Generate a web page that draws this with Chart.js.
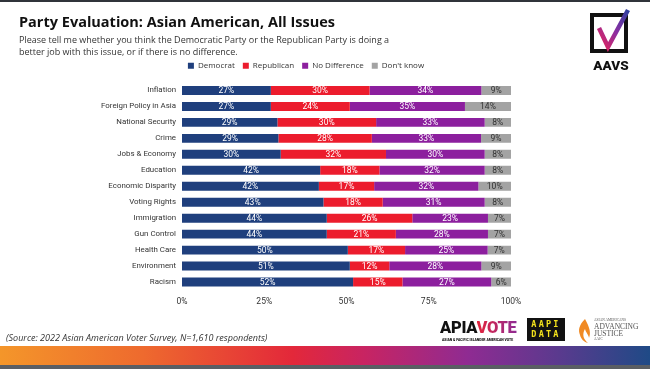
<!DOCTYPE html>
<html>
<head>
<meta charset="utf-8">
<script src="https://cdn.jsdelivr.net/npm/chart.js@4/dist/chart.umd.min.js"></script>
<style>
  html, body { margin: 0; padding: 0; background: #fff; }
  #page { position: relative; width: 650px; height: 369px; overflow: hidden; background: #fff; font-family: "Open Sans", sans-serif; }
  #chartBox { position: absolute; left: 0; top: 0; width: 650px; height: 369px; }
  .abs { position: absolute; white-space: nowrap; }
  #topline { left: 0; top: 0; width: 650px; height: 2px; background: #30343a; }
  #title { left: 19px; top: 15px; font-size: 14.5px; line-height: 14.5px; font-weight: 700; color: #111; }
  #subtitle { left: 19px; top: 34px; font-size: 9px; line-height: 12px; color: #333; }
  #source { left: 6px; top: 332px; font-size: 9px; line-height: 12px; font-style: italic; color: #333; }
  #band { left: 0; top: 346px; width: 650px; height: 19px;
    background: linear-gradient(90deg, #f4962a 0%, #ee6a2e 22%, #e3283a 45%, #c82462 56%, #8f2b92 72%, #5a3a8e 86%, #1f4a86 100%); }
  #bottomline { left: 0; top: 365px; width: 650px; height: 4px; background: #5a5e64; }
  #apia { left: 440px; top: 319px; font-family: Roboto, sans-serif; font-weight: 900; font-size: 16.5px; line-height: 18px; letter-spacing: -0.3px; color: #111; }
  #apia span { background: linear-gradient(90deg, #e3243b, #8e2b95); -webkit-background-clip: text; background-clip: text; color: transparent; }
  #apiaTag { left: 442px; top: 338px; font-family: Roboto, sans-serif; font-weight: 900; font-size: 3.4px; line-height: 4px; color: #111; }
  #aapi { left: 527px; top: 318px; width: 38px; height: 23px; background: #111; color: #f3e21d; font-family: "DejaVu Sans Mono", monospace; font-weight: 700; font-size: 8.5px; line-height: 10px; letter-spacing: 2.2px; text-align: center; padding-top: 1px; box-sizing: border-box; }
  #aaj { left: 594px; top: 318px; font-family: "Liberation Serif", serif; color: #555; }
  #aaj .small { font-size: 3.5px; line-height: 5px; }
  #aaj .big { font-size: 7.5px; line-height: 7px; }
</style>
</head>
<body>
<div id="page">
  <div id="chartBox"><canvas id="partyChart"></canvas></div>
  <div id="topline" class="abs"></div>
  <div id="title" class="abs">Party Evaluation: Asian American, All Issues</div>
  <div id="subtitle" class="abs">Please tell me whether you think the Democratic Party or the Republican Party is doing a<br>better job with this issue, or if there is no difference.</div>

  <svg class="abs" style="left:588px;top:6px" width="50" height="68" viewBox="0 0 50 68">
    <defs>
      <linearGradient id="chk" x1="0" y1="1" x2="1" y2="0">
        <stop offset="0" stop-color="#e5245a"/>
        <stop offset="0.5" stop-color="#8a2ea2"/>
        <stop offset="1" stop-color="#2f3fa0"/>
      </linearGradient>
    </defs>
    <rect x="4" y="9" width="34" height="36" fill="none" stroke="#111" stroke-width="4"/>
    <path d="M11 22 L20 41 L40 4" fill="none" stroke="url(#chk)" stroke-width="4.5" stroke-linejoin="miter"/>
    <text x="23" y="64" text-anchor="middle" font-family="Roboto, sans-serif" font-weight="900" font-size="13.5" fill="#111">AAVS</text>
  </svg>

  <div id="source" class="abs">(Source: 2022 Asian American Voter Survey, N=1,610 respondents)</div>
  <div id="apia" class="abs">APIA<span>VOTE</span></div>
  <div id="apiaTag" class="abs">ASIAN &amp; PACIFIC ISLANDER AMERICAN VOTE</div>
  <div id="aapi" class="abs">AAPI<br>DATA</div>
  <svg class="abs" style="left:576px;top:318px" width="16" height="26" viewBox="0 0 16 26">
    <path d="M9 1 C3 7 2 12 4 17 C5 21 8 24 12 25 C7 21 6 16 9 11 C10 15 13 17 13 20 C15 15 14 10 9 1 Z" fill="#f08a24"/>
  </svg>
  <div id="aaj" class="abs">
    <div class="small">ASIAN AMERICANS</div>
    <div class="big">ADVANCING</div>
    <div class="big">JUSTICE</div>
    <div class="small">AAJC</div>
  </div>
  <div id="band" class="abs"></div>
  <div id="bottomline" class="abs"></div>
</div>

<script>
// issues, top to bottom
var issues = ['Inflation', 'Foreign Policy in Asia', 'National Security', 'Crime', 'Jobs & Economy',
  'Education', 'Economic Disparity', 'Voting Rights', 'Immigration', 'Gun Control',
  'Health Care', 'Environment', 'Racism'];

// shares in % (labels are the rounded values)
var democrat     = [27, 27, 29, 29.3, 30, 42, 41.6, 43, 44, 44, 50.4, 51, 52];
var republican   = [30, 24, 30, 28.4, 32, 18, 16.8, 18, 26, 21, 17.4, 12, 15];
var noDifference = [34, 35, 33, 33.2, 30, 32, 31.7, 31, 23, 28, 25.1, 28, 27];
var dontKnow     = [9, 14, 8, 9.1, 8, 8, 9.9, 8, 7, 7, 7.1, 9, 6];

var xTicks = [0, 25, 50, 75, 100];

// writes the rounded share in the middle of each segment
var segmentLabels = {
  id: 'segmentLabels',
  afterDatasetsDraw: function (chart) {
    var ctx = chart.ctx;
    ctx.save();
    ctx.font = '8.5px Roboto';
    ctx.textAlign = 'center';
    ctx.textBaseline = 'middle';
    chart.data.datasets.forEach(function (ds, i) {
      var meta = chart.getDatasetMeta(i);
      ctx.fillStyle = i === 3 ? '#333333' : '#ffffff';
      meta.data.forEach(function (bar, j) {
        var p = bar.getCenterPoint();
        ctx.fillText(Math.round(ds.data[j]) + '%', p.x, p.y + 0.5);
      });
    });
    ctx.restore();
  }
};

var ctx = document.getElementById('partyChart').getContext('2d');

var partyChart = new Chart(ctx, {
  type: 'bar',
  data: {
    labels: issues,
    datasets: [
      { label: 'Democrat', data: democrat, backgroundColor: '#1f3f7d' },
      { label: 'Republican', data: republican, backgroundColor: '#ec1c2d' },
      { label: 'No Difference', data: noDifference, backgroundColor: '#8c1f9e' },
      { label: "Don't know", data: dontKnow, backgroundColor: '#a3a3a3' }
    ]
  },
  options: {
    indexAxis: 'y',
    responsive: true,
    maintainAspectRatio: false,
    animation: false,
    borderWidth: 0,
    barPercentage: 0.56,
    categoryPercentage: 1,
    layout: { padding: { left: 101, right: 139, top: 53.75, bottom: 59 } },
    plugins: {
      legend: {
        position: 'top',
        align: 'center',
        labels: {
          boxWidth: 6,
          boxHeight: 6,
          padding: 8,
          color: '#333',
          font: { family: 'Open Sans', size: 8 }
        }
      },
      tooltip: { enabled: false }
    },
    scales: {
      x: {
        stacked: true,
        min: 0,
        max: 100,
        afterBuildTicks: function (scale) {
          scale.ticks = xTicks.map(function (v) { return { value: v }; });
        },
        afterFit: function (scale) { scale.height = 20; },
        grid: { display: false, drawTicks: false },
        border: { display: false },
        ticks: {
          padding: 7,
          color: '#333',
          font: { family: 'Roboto', size: 8.5 },
          callback: function (v) { return v + '%'; }
        }
      },
      // empty spacer above the bars
      x2: {
        type: 'linear',
        position: 'top',
        grid: { display: false, drawTicks: false },
        border: { display: false },
        ticks: { display: false },
        afterFit: function (scale) { scale.height = 2.75; }
      },
      y: {
        stacked: true,
        afterFit: function (scale) { scale.width = 81; },
        grid: { display: false, drawTicks: false },
        border: { display: false },
        ticks: {
          padding: 6,
          color: '#333',
          autoSkip: false,
          font: { family: 'Roboto', size: 7.9 }
        }
      }
    }
  },
  plugins: [segmentLabels]
});
</script>
</body>
</html>
